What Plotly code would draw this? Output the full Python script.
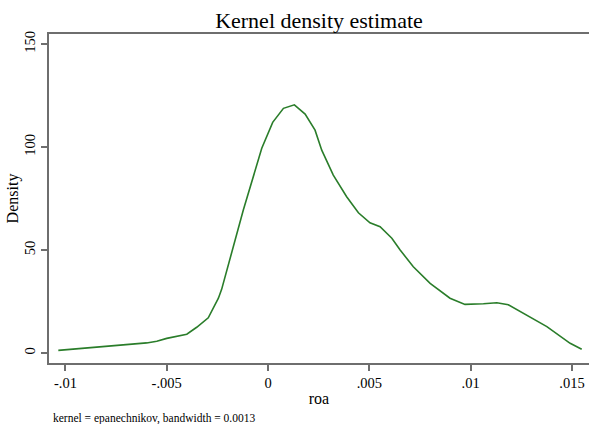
import plotly.graph_objects as go

# Kernel density estimate of roa
roa = [-0.01035, -0.00912, -0.00747, -0.00599, -0.00549, -0.00500, -0.00401,
       -0.00352, -0.00295, -0.00245, -0.00229, -0.00122, -0.00031, 0.00023,
       0.00076, 0.00130, 0.00183, 0.00232, 0.00265, 0.00322, 0.00388, 0.00446,
       0.00503, 0.00553, 0.00611, 0.00652, 0.00717, 0.00800, 0.00898, 0.00972,
       0.01063, 0.01129, 0.01186, 0.01277, 0.01376, 0.01491, 0.01548]
density = [1.3, 2.3, 3.7, 4.9, 5.7, 7.1, 9.1,
           12.5, 17.1, 26.6, 30.9, 69.4, 99.4, 112.0,
           118.8, 120.5, 116.0, 108.2, 98.5, 86.4, 75.9, 68.1,
           63.2, 61.3, 55.7, 50.0, 41.9, 33.8, 26.6, 23.6,
           23.9, 24.4, 23.4, 18.4, 12.8, 4.7, 1.8]

x_tickvals = [-0.01, -0.005, 0, 0.005, 0.01, 0.015]
x_ticktext = ["-.01", "-.005", "0", ".005", ".01", ".015"]
y_tickvals = [0, 50, 100, 150]
y_ticktext = ["0", "50", "100", "150"]

title_text = "Kernel density estimate"
note_text = "kernel = epanechnikov, bandwidth = 0.0013"

SERIF = "Liberation Serif"
AXIS_COL = "#6e6e6e"

fig = go.Figure()
fig.add_trace(go.Scatter(x=roa, y=density, mode="lines",
                         line=dict(color="#2a7d2a", width=1.6),
                         showlegend=False, hoverinfo="skip"))

fig.update_layout(
    width=589, height=424,
    margin=dict(l=49, r=0, t=34, b=61),
    paper_bgcolor="white", plot_bgcolor="white",
    font=dict(family=SERIF, color="black"),
    title=dict(text=title_text, x=0.5, xref="paper", xanchor="center",
               y=1 - 20 / 424, yref="container", yanchor="middle",
               font=dict(family=SERIF, size=22, color="black")),
    xaxis=dict(range=[-0.01081, 0.01584], tickvals=x_tickvals, ticktext=x_ticktext,
               showgrid=False, zeroline=False, showline=True, linecolor=AXIS_COL,
               linewidth=2, mirror=True, ticks="outside", ticklen=6,
               tickcolor=AXIS_COL, tickwidth=1.5,
               tickfont=dict(family=SERIF, size=14.5, color="black"),
               title=dict(text="roa", font=dict(family=SERIF, size=16), standoff=2)),
    yaxis=dict(range=[-4.85, 154.9], tickvals=y_tickvals, ticktext=y_ticktext,
               showgrid=False, zeroline=False, showline=True, linecolor=AXIS_COL,
               linewidth=2, ticks="outside", ticklen=6, tickcolor=AXIS_COL,
               tickwidth=1.5, tickangle=-90,
               tickfont=dict(family=SERIF, size=14.5, color="black"),
               title=dict(text="Density", font=dict(family=SERIF, size=16), standoff=0)),
    annotations=[dict(text=note_text, xref="paper", yref="paper",
                      x=0, y=(363 - 418) / 329, xanchor="left", yanchor="middle",
                      xshift=2, showarrow=False,
                      font=dict(family=SERIF, size=11.5, color="black"))],
)

fig.write_html("out.html")
